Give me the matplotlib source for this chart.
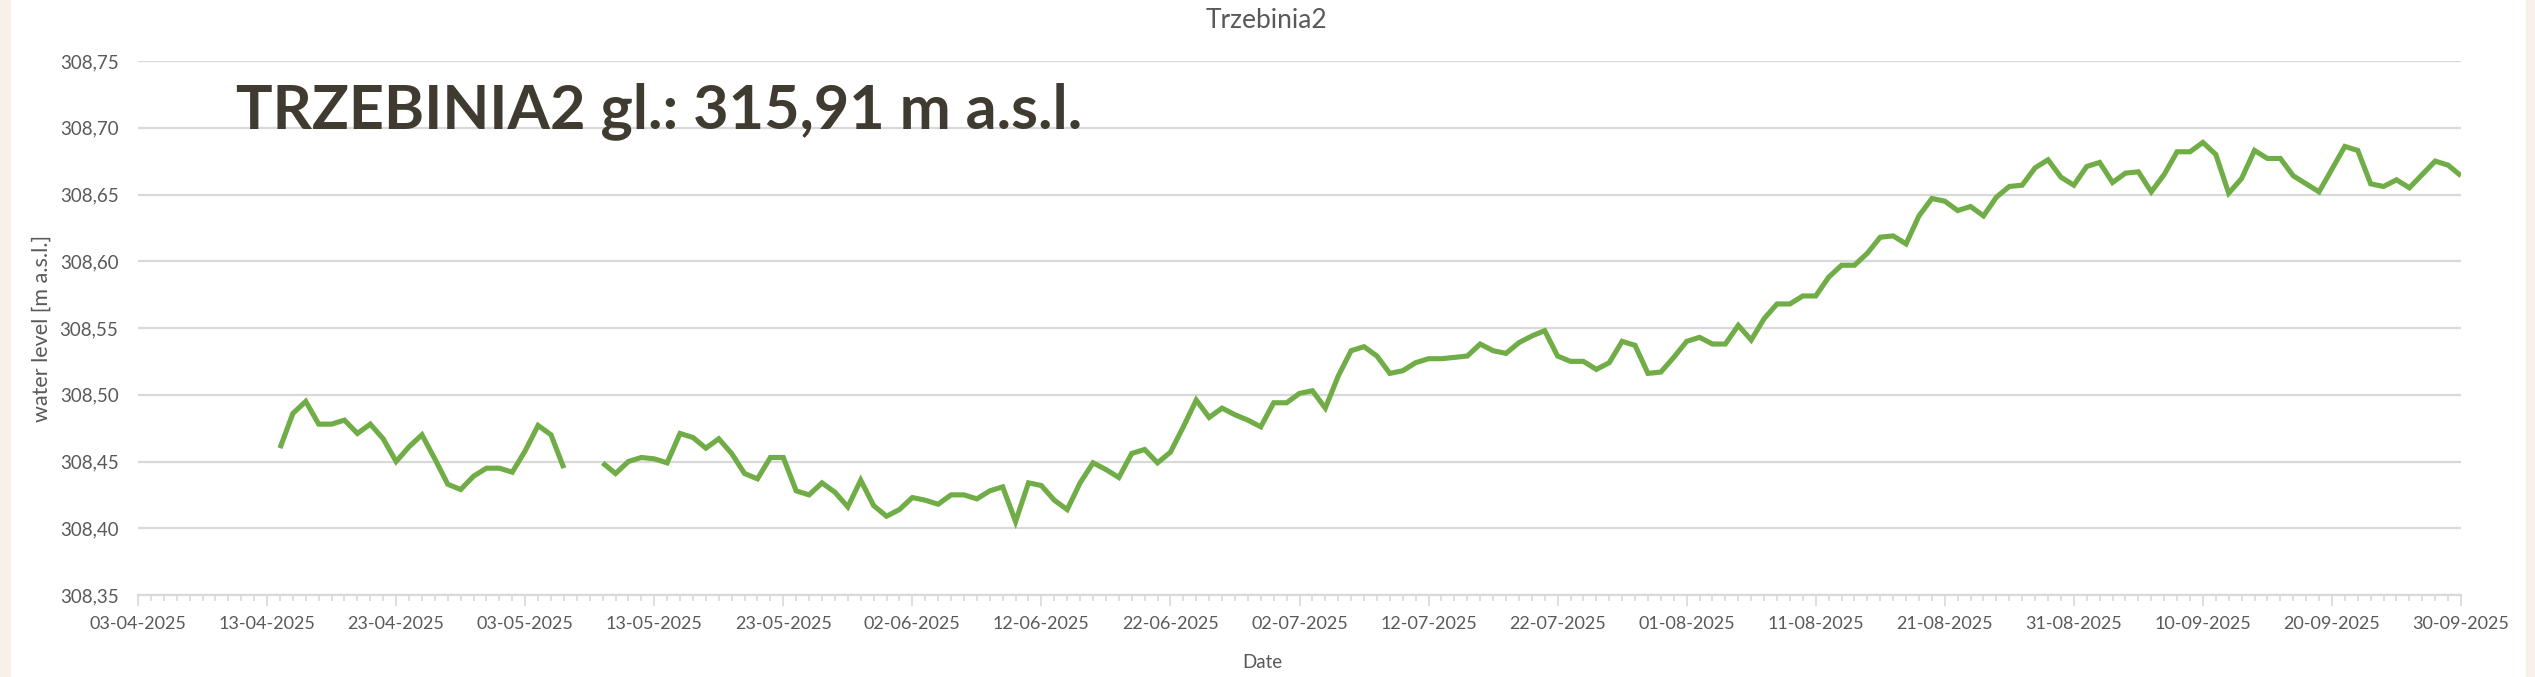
import numpy as np
import pandas as pd
import matplotlib
matplotlib.use("Agg")
import matplotlib.pyplot as plt
import matplotlib.dates as mdates
from matplotlib.patches import Rectangle
from matplotlib.ticker import FixedLocator, FuncFormatter

plt.rcParams['font.family'] = ['Lato', 'DejaVu Sans']

# ---- data ----
title = "Trzebinia2"
annotation = "TRZEBINIA2 gl.: 315,91 m a.s.l."
x_label = "Date"
y_label = "water level [m a.s.l.]"

start_date = "2025-04-14"
end_date = "2025-09-30"
missing_dates = ["2025-05-07", "2025-05-08"]

# daily water level readings (m a.s.l.), excluding missing dates
levels = [
    308.460, 308.486, 308.495, 308.478, 308.478, 308.481, 308.471, 308.478,
    308.467, 308.450, 308.461, 308.470, 308.452, 308.433, 308.429, 308.439,
    308.445, 308.445, 308.442, 308.458, 308.477, 308.470, 308.445,
    308.449, 308.441, 308.450, 308.453, 308.452, 308.449, 308.471, 308.468,
    308.460, 308.467, 308.456, 308.441, 308.437, 308.453, 308.453, 308.428,
    308.425, 308.434, 308.427, 308.416, 308.436, 308.417, 308.409, 308.414,
    308.423, 308.421, 308.418, 308.425, 308.425, 308.422, 308.428, 308.431,
    308.405, 308.434, 308.432, 308.421, 308.414, 308.434, 308.449, 308.444,
    308.438, 308.456, 308.459, 308.449, 308.457, 308.476, 308.496, 308.483,
    308.490, 308.485, 308.481, 308.476, 308.494, 308.494, 308.501, 308.503,
    308.490, 308.514, 308.533, 308.536, 308.529, 308.516, 308.518, 308.524,
    308.527, 308.527, 308.528, 308.529, 308.538, 308.533, 308.531, 308.539,
    308.544, 308.548, 308.529, 308.525, 308.525, 308.519, 308.524, 308.540,
    308.537, 308.516, 308.517, 308.528, 308.540, 308.543, 308.538, 308.538,
    308.552, 308.541, 308.557, 308.568, 308.568, 308.574, 308.574, 308.588,
    308.597, 308.597, 308.606, 308.618, 308.619, 308.613, 308.634, 308.647,
    308.645, 308.638, 308.641, 308.634, 308.648, 308.656, 308.657, 308.670,
    308.676, 308.663, 308.657, 308.671, 308.674, 308.659, 308.666, 308.667,
    308.652, 308.665, 308.682, 308.682, 308.689, 308.680, 308.651, 308.662,
    308.683, 308.677, 308.677, 308.664, 308.658, 308.652, 308.669, 308.686,
    308.683, 308.658, 308.656, 308.661, 308.655, 308.665, 308.675, 308.672,
    308.664,
]

x_min = "2025-04-03"
x_max = "2025-09-30"
y_ticks = [308.35, 308.40, 308.45, 308.50, 308.55, 308.60, 308.65, 308.70, 308.75]

# ---- build series ----
all_days = pd.date_range(start_date, end_date, freq="D")
present = all_days[~all_days.isin(pd.to_datetime(missing_dates))]
series = pd.Series(levels, index=present).reindex(all_days)

# ---- figure ----
W, H = 2535, 677
fig = plt.figure(figsize=(W / 100, H / 100), dpi=100)
fig.patch.set_facecolor("white")
beige = "#f7f1e9"
fig.patches.append(Rectangle((0, 0), 10 / W, 1, transform=fig.transFigure,
                             color=beige, zorder=-10))
fig.patches.append(Rectangle((2526 / W, 0), 9 / W, 1, transform=fig.transFigure,
                             color=beige, zorder=-10))

left, right, top, bottom = 138, 2461, 61, 595
ax = fig.add_axes([left / W, 1 - bottom / H, (right - left) / W, (bottom - top) / H])

ax.plot(series.index, series.values, color="#70ad47", lw=3.7,
        solid_joinstyle="miter", solid_capstyle="butt", zorder=3)

ax.set_xlim(pd.Timestamp(x_min), pd.Timestamp(x_max))
ax.set_ylim(y_ticks[0], y_ticks[-1])

major_dates = pd.date_range(x_min, x_max, freq="10D")
ax.xaxis.set_major_locator(FixedLocator(mdates.date2num(major_dates)))
ax.xaxis.set_major_formatter(mdates.DateFormatter("%d-%m-%Y"))
ax.xaxis.set_minor_locator(mdates.DayLocator())

ax.yaxis.set_major_locator(FixedLocator(y_ticks))
ax.yaxis.set_major_formatter(FuncFormatter(lambda v, p: f"{v:.2f}".replace(".", ",")))

grid_c = "#d9d9d9"
ax.grid(axis="y", color=grid_c, lw=1.6, zorder=0)
for s in ["left", "right", "top"]:
    ax.spines[s].set_visible(False)
ax.spines["bottom"].set_color(grid_c)
ax.spines["bottom"].set_linewidth(1.6)

ax.tick_params(axis="x", which="major", length=8, width=1.2, color=grid_c,
               labelsize=13, labelcolor="#595959", pad=7)
ax.tick_params(axis="x", which="minor", length=4.5, width=1.2, color=grid_c)
ax.tick_params(axis="y", which="both", length=0, labelsize=13.5,
               labelcolor="#595959", pad=14)

fig.text(1267 / W, 1 - 20 / H, title, ha="center", va="center",
         fontsize=19, color="#595959")
fig.text(236 / W, 1 - 128 / H, annotation, ha="left", va="baseline",
         fontsize=44, fontweight="bold", color="#403b31")
fig.text(42 / W, 1 - 328 / H, y_label, ha="center", va="center",
         rotation=90, fontsize=15.5, color="#595959")
fig.text(1262 / W, 1 - 662 / H, x_label, ha="center", va="center",
         fontsize=13.5, color="#595959")

fig.savefig("out.png", dpi=100, facecolor="white")
